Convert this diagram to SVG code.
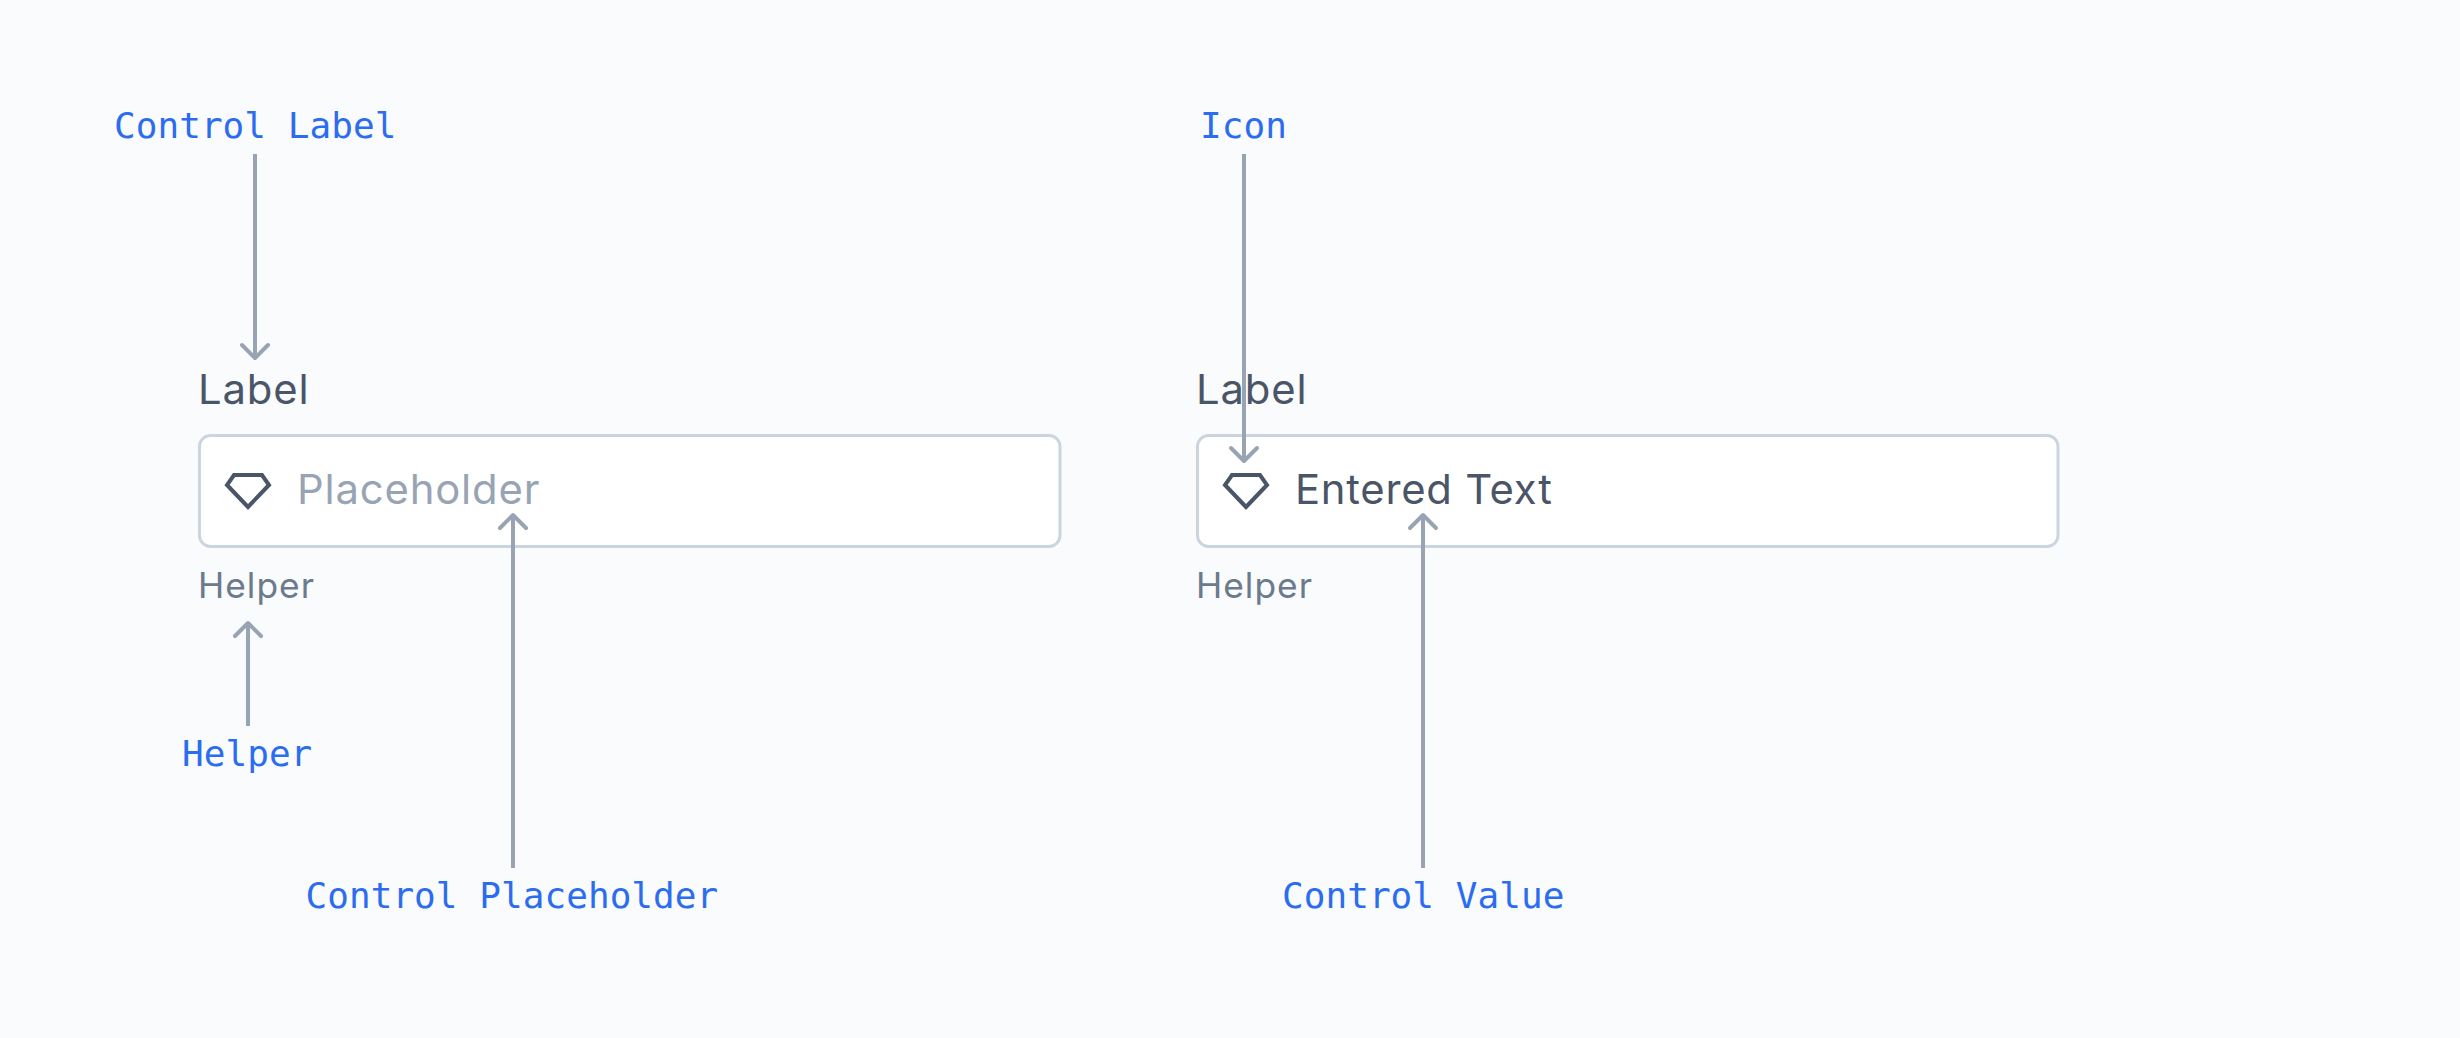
<svg xmlns="http://www.w3.org/2000/svg" width="2460" height="1038" viewBox="0 0 2460 1038">
<style>
.ann{font-family:"DejaVu Sans Mono",monospace;font-size:36px;letter-spacing:.05px;fill:#2b6cf0}
.ui{font-family:Inter,sans-serif}
.lbl{font-size:41px;letter-spacing:.85px;fill:#4a5568}
.ph{font-size:41px;letter-spacing:.8px;fill:#98a4b4}
.val{font-size:41px;letter-spacing:.72px;fill:#4a5568}
.help{font-size:35px;letter-spacing:1px;fill:#6b7a8c}
.box{fill:#fff;stroke:#cbd5e0;stroke-width:3}
.gem{fill:none;stroke:#4a5568;stroke-width:4}
.conn path{fill:none;stroke:#98a4b4;stroke-width:4}
.conn .head{stroke-linecap:round;stroke-linejoin:round}
</style>
<rect width="2460" height="1038" fill="#f9fbfc"/>
<g id="field-placeholder">
<text class="ui lbl" transform="translate(198 404) scale(1.02 1)">Label</text>
<rect class="box" x="199.5" y="435.5" width="860.5" height="111" rx="11"/>
<path class="gem" d="M234 475H262L269 485L248 507L227 485Z"/>
<text class="ui ph" transform="translate(297 504) scale(1.02 1)">Placeholder</text>
<text class="ui help" transform="translate(198 598) scale(1.01 1)">Helper</text>
</g>
<g id="field-entered">
<text class="ui lbl" transform="translate(1196 404) scale(1.02 1)">Label</text>
<rect class="box" x="1197.5" y="435.5" width="860.5" height="111" rx="11"/>
<path class="gem" d="M1232 475H1260L1267 485L1246 507L1225 485Z"/>
<text class="ui val" transform="translate(1295 504) scale(1.02 1)">Entered Text</text>
<text class="ui help" transform="translate(1196 598) scale(1.01 1)">Helper</text>
</g>
<g id="annotation-control-label"><text class="ann" x="114" y="138">Control Label</text></g>
<g id="annotation-icon"><text class="ann" x="1200" y="138">Icon</text></g>
<g id="annotation-helper"><text class="ann" x="182" y="766">Helper</text></g>
<g id="annotation-control-placeholder"><text class="ann" x="305.5" y="908">Control Placeholder</text></g>
<g id="annotation-control-value"><text class="ann" x="1282" y="908">Control Value</text></g>
<g id="connectors" class="conn">
<path d="M255 154V357"/><path class="head" d="M242 345L255 358L268 345"/>
<path d="M248 726V624"/><path class="head" d="M235 636L248 623L261 636"/>
<path d="M513 868V516"/><path class="head" d="M500 528L513 515L526 528"/>
<path d="M1244 154V460"/><path class="head" d="M1231 448L1244 461L1257 448"/>
<path d="M1423 868V516"/><path class="head" d="M1410 528L1423 515L1436 528"/>
</g>
</svg>
